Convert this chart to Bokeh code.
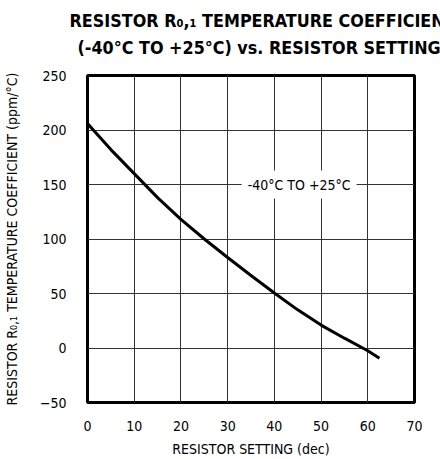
from bokeh.plotting import figure
from bokeh.models import Range1d, FixedTicker, Label, Title
from bokeh.embed import file_html
from bokeh.resources import INLINE

# Temperature coefficient (ppm/°C) of R0,1 versus resistor setting (dec)
setting = [0, 5, 10, 15, 20, 25, 30, 35, 40, 45, 50, 55, 60, 62.5]
tempco = [206, 182, 160, 138, 118, 100, 83, 66.5, 50.5, 35, 21, 9, -2.5, -9.5]

x_ticks = [0, 10, 20, 30, 40, 50, 60, 70]
y_ticks = [-50, 0, 50, 100, 150, 200, 250]

FONT = "DejaVu Sans Condensed"

p = figure(width=440, height=459, output_backend="svg", toolbar_location=None,
           x_range=Range1d(0, 70), y_range=Range1d(-50, 250),
           min_border_left=85, min_border_right=26, min_border_top=75,
           min_border_bottom=56)

p.title.visible = False
# two-line heading; bottom padding keeps it clear of the frame
p.add_layout(Title(text="(-40°C TO +25°C) vs. RESISTOR SETTING", align="left",
                   offset=-10, text_font=FONT, text_font_style="bold",
                   text_font_size="17.8px", text_color="#000000", standoff=9,
                   padding=dict(top=0, right=0, bottom=13, left=0)), "above")
p.add_layout(Title(text="RESISTOR R₀,₁ TEMPERATURE COEFFICIENT", align="left",
                   offset=-18, text_font=FONT, text_font_style="bold",
                   text_font_size="17.8px", text_color="#000000", standoff=0), "above")

p.outline_line_color = "#000000"
p.outline_line_width = 3

for ax, ticks in ((p.xaxis[0], x_ticks), (p.yaxis[0], y_ticks)):
    ax.ticker = FixedTicker(ticks=ticks)
    ax.axis_line_color = None
    ax.major_tick_line_color = None
    ax.minor_tick_line_color = None
    ax.major_label_text_font = FONT
    ax.major_label_text_font_size = "14px"
    ax.major_label_text_color = "#000000"
    ax.axis_label_text_font = FONT
    ax.axis_label_text_font_style = "normal"
    ax.axis_label_text_color = "#000000"

p.xaxis.axis_label = "RESISTOR SETTING (dec)"
p.xaxis.axis_label_text_font_size = "14px"
p.xaxis.major_label_standoff = 12
p.xaxis.axis_label_standoff = 7

p.yaxis.axis_label = "RESISTOR R₀,₁ TEMPERATURE COEFFICIENT (ppm/°C)"
p.yaxis.axis_label_text_font_size = "14px"
p.yaxis.major_label_standoff = 15
p.yaxis.axis_label_standoff = 17

p.xgrid.ticker = FixedTicker(ticks=x_ticks)
p.ygrid.ticker = FixedTicker(ticks=y_ticks)
for g in (p.xgrid[0], p.ygrid[0]):
    g.grid_line_color = "#333333"
    g.grid_line_width = 1
    g.grid_line_alpha = 1.0

p.line(setting, tempco, line_color="#000000", line_width=3)

p.add_layout(Label(x=45.3, y=150, text="-40°C TO +25°C", text_align="center",
                   text_baseline="middle", text_font=FONT, text_font_size="14px",
                   text_color="#000000", background_fill_color="#ffffff",
                   background_fill_alpha=1.0, padding=6))

p.add_layout(Label(x=72.2, y=248, text="DS3906 toc08", angle=-90,
                   angle_units="deg", text_align="left", text_baseline="middle",
                   text_font=FONT, text_font_size="9px", text_color="#000000"))

open("out.html", "w").write(file_html(p, INLINE))
